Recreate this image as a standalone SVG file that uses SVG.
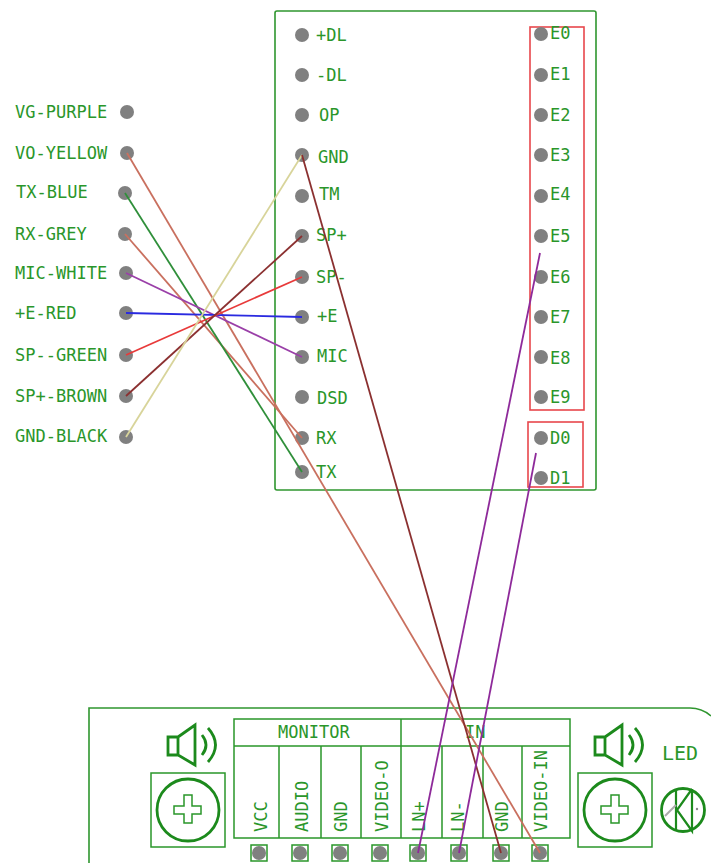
<svg xmlns="http://www.w3.org/2000/svg" width="711" height="863" viewBox="0 0 711 863">
<style>
text{font-family:"DejaVu Sans Mono","Liberation Mono",monospace;font-size:17px;fill:#2a962a}
.g{fill:none;stroke:#2f962f;stroke-width:1.6}
.d{fill:none;stroke:#1c8a1c;stroke-width:2.8}
.r{fill:none;stroke:#e8474c;stroke-width:1.6}
.p{fill:#808080}
.w{fill:none;stroke-width:1.8}
.b{fill:none;stroke:#2a962a;stroke-width:1.5}
.l{fill:none;stroke:#1c8a1c;stroke-width:2.2}
</style>
<defs>
<g id="spk"><path class="d" d="M168 737H178V755H168ZM178 737L195 725V765L178 755Z"/><path class="d" d="M202 735Q210 745 202 755M208 728Q223 745 208 762"/></g>
<g id="knob"><rect class="b" x="151" y="773" width="74" height="74"/><circle class="d" cx="188" cy="810" r="31"/><path class="b" d="M184 795H192V806H201V814H192V823H184V814H174V806H184Z"/></g>
<rect id="pad" class="b" x="-8" y="-8" width="16" height="16"/>
</defs>
<g id="main-board"><rect class="g" x="275" y="11" width="321" height="479" rx="2"/></g>
<g id="red-boxes"><rect class="r" x="530" y="27" width="54" height="383"/><rect class="r" x="528" y="422" width="55" height="65"/></g>
<g id="left-labels">
<g id="l-vg"><text x="15" y="118">VG-PURPLE</text><circle class="p" cx="127" cy="112" r="7"/></g>
<g id="l-vo"><text x="15" y="159">VO-YELLOW</text><circle class="p" cx="127" cy="153" r="7"/></g>
<g id="l-tx"><text x="16" y="198">TX-BLUE</text><circle class="p" cx="125" cy="193" r="7"/></g>
<g id="l-rx"><text x="15" y="240">RX-GREY</text><circle class="p" cx="125" cy="234" r="7"/></g>
<g id="l-mic"><text x="15" y="279">MIC-WHITE</text><circle class="p" cx="126" cy="273" r="7"/></g>
<g id="l-e"><text x="15" y="319">+E-RED</text><circle class="p" cx="126" cy="313" r="7"/></g>
<g id="l-spm"><text x="15" y="361">SP--GREEN</text><circle class="p" cx="126" cy="355" r="7"/></g>
<g id="l-spp"><text x="15" y="402">SP+-BROWN</text><circle class="p" cx="126" cy="396" r="7"/></g>
<g id="l-gnd"><text x="15" y="442">GND-BLACK</text><circle class="p" cx="126" cy="437" r="7"/></g>
</g>
<g id="mid-pins">
<g id="m-dl1"><circle class="p" cx="302" cy="35" r="7"/><text x="316" y="41">+DL</text></g>
<g id="m-dl2"><circle class="p" cx="302" cy="75" r="7"/><text x="316" y="81">-DL</text></g>
<g id="m-op"><circle class="p" cx="302" cy="115" r="7"/><text x="319" y="121">OP</text></g>
<g id="m-gnd"><circle class="p" cx="302" cy="155" r="7"/><text x="318" y="163">GND</text></g>
<g id="m-tm"><circle class="p" cx="302" cy="196" r="7"/><text x="319" y="200">TM</text></g>
<g id="m-spp"><circle class="p" cx="302" cy="236" r="7"/><text x="316" y="241">SP+</text></g>
<g id="m-spm"><circle class="p" cx="302" cy="277" r="7"/><text x="316" y="283">SP-</text></g>
<g id="m-e"><circle class="p" cx="302" cy="317" r="7"/><text x="317" y="322">+E</text></g>
<g id="m-mic"><circle class="p" cx="302" cy="357" r="7"/><text x="317" y="362">MIC</text></g>
<g id="m-dsd"><circle class="p" cx="302" cy="397" r="7"/><text x="317" y="404">DSD</text></g>
<g id="m-rx"><circle class="p" cx="302" cy="438" r="7"/><text x="316" y="444">RX</text></g>
<g id="m-tx"><circle class="p" cx="302" cy="472" r="7"/><text x="316" y="478">TX</text></g>
</g>
<g id="right-pins">
<g id="e0"><circle class="p" cx="541" cy="34" r="7"/><text x="550" y="39">E0</text></g>
<g id="e1"><circle class="p" cx="541" cy="75" r="7"/><text x="550" y="80">E1</text></g>
<g id="e2"><circle class="p" cx="541" cy="115" r="7"/><text x="550" y="121">E2</text></g>
<g id="e3"><circle class="p" cx="541" cy="155" r="7"/><text x="550" y="161">E3</text></g>
<g id="e4"><circle class="p" cx="541" cy="196" r="7"/><text x="550" y="200">E4</text></g>
<g id="e5"><circle class="p" cx="541" cy="236" r="7"/><text x="550" y="242">E5</text></g>
<g id="e6"><circle class="p" cx="541" cy="277" r="7"/><text x="550" y="283">E6</text></g>
<g id="e7"><circle class="p" cx="541" cy="317" r="7"/><text x="550" y="323">E7</text></g>
<g id="e8"><circle class="p" cx="541" cy="357" r="7"/><text x="550" y="364">E8</text></g>
<g id="e9"><circle class="p" cx="541" cy="397" r="7"/><text x="550" y="403">E9</text></g>
<g id="d0"><circle class="p" cx="541" cy="438" r="7"/><text x="550" y="444">D0</text></g>
<g id="d1"><circle class="p" cx="541" cy="478" r="7"/><text x="550" y="484">D1</text></g>
</g>
<g id="bottom-board">
<path class="g" d="M89 863V708H690Q702 708 711 716"/>
<g id="terminal"><rect class="b" x="234" y="719" width="336" height="119"/><path class="b" d="M234 746H570M401 719V838M279 746V838M321 746V838M361 746V838M442 746V838M483 746V838M522 746V838"/></g>
<text x="278" y="738">MONITOR</text><text x="465" y="738">IN</text>
<text transform="translate(267 832) rotate(-90)">VCC</text>
<text transform="translate(308 832) rotate(-90)">AUDIO</text>
<text transform="translate(347 832) rotate(-90)">GND</text>
<text transform="translate(388 832) rotate(-90)">VIDEO-O</text>
<text transform="translate(425 832) rotate(-90)">LN+</text>
<text transform="translate(464 832) rotate(-90)">LN-</text>
<text transform="translate(508 832) rotate(-90)">GND</text>
<text transform="translate(547 832) rotate(-90)">VIDEO-IN</text>
<use href="#spk"/><use href="#spk" x="427"/><use href="#knob"/><use href="#knob" x="427"/>
<text x="662" y="760" style="font-size:20px">LED</text>
<g id="led"><circle class="d" cx="683" cy="810" r="21.5"/><path class="l" d="M676 790V830M692 789V831L677 810L692 789"/><path d="M665 816L676 805" stroke="#aaa" stroke-width="2" fill="none"/><circle cx="697" cy="809" r="1.2" fill="#888"/></g>
</g>
<g id="pads">
<g id="p1"><use href="#pad" x="259" y="853"/><circle class="p" cx="259" cy="853" r="7"/></g>
<g id="p2"><use href="#pad" x="300" y="853"/><circle class="p" cx="300" cy="853" r="7"/></g>
<g id="p3"><use href="#pad" x="340" y="853"/><circle class="p" cx="340" cy="853" r="7"/></g>
<g id="p4"><use href="#pad" x="380" y="853"/><circle class="p" cx="380" cy="853" r="7"/></g>
<g id="p5"><use href="#pad" x="418" y="853"/><circle class="p" cx="418" cy="853" r="7"/></g>
<g id="p6"><use href="#pad" x="459" y="853"/><circle class="p" cx="459" cy="853" r="7"/></g>
<g id="p7"><use href="#pad" x="501" y="853"/><circle class="p" cx="501" cy="853" r="7"/></g>
<g id="p8"><use href="#pad" x="540" y="853"/><circle class="p" cx="540" cy="853" r="7"/></g>
</g>
<g id="connectors">
<path class="w" stroke="#c9705f" d="M127 153L540 853"/>
<path class="w" stroke="#c9705f" d="M125 234L302 438"/>
<path class="w" stroke="#2f8f3a" d="M125 193L302 472"/>
<path class="w" stroke="#9a3fa8" d="M126 273L302 357"/>
<path class="w" stroke="#2a2ae0" d="M126 313L302 317"/>
<path class="w" stroke="#e83a3a" d="M126 355L302 277"/>
<path class="w" stroke="#8b3030" d="M126 396L302 236"/>
<path class="w" stroke="#d8d49a" d="M126 437L302 155"/>
<path class="w" stroke="#8b3030" d="M302 155L501 853"/>
<path class="w" stroke="#8e2a9a" d="M540 253L418 853"/>
<path class="w" stroke="#8e2a9a" d="M536 453L459 853"/>
</g>
</svg>
